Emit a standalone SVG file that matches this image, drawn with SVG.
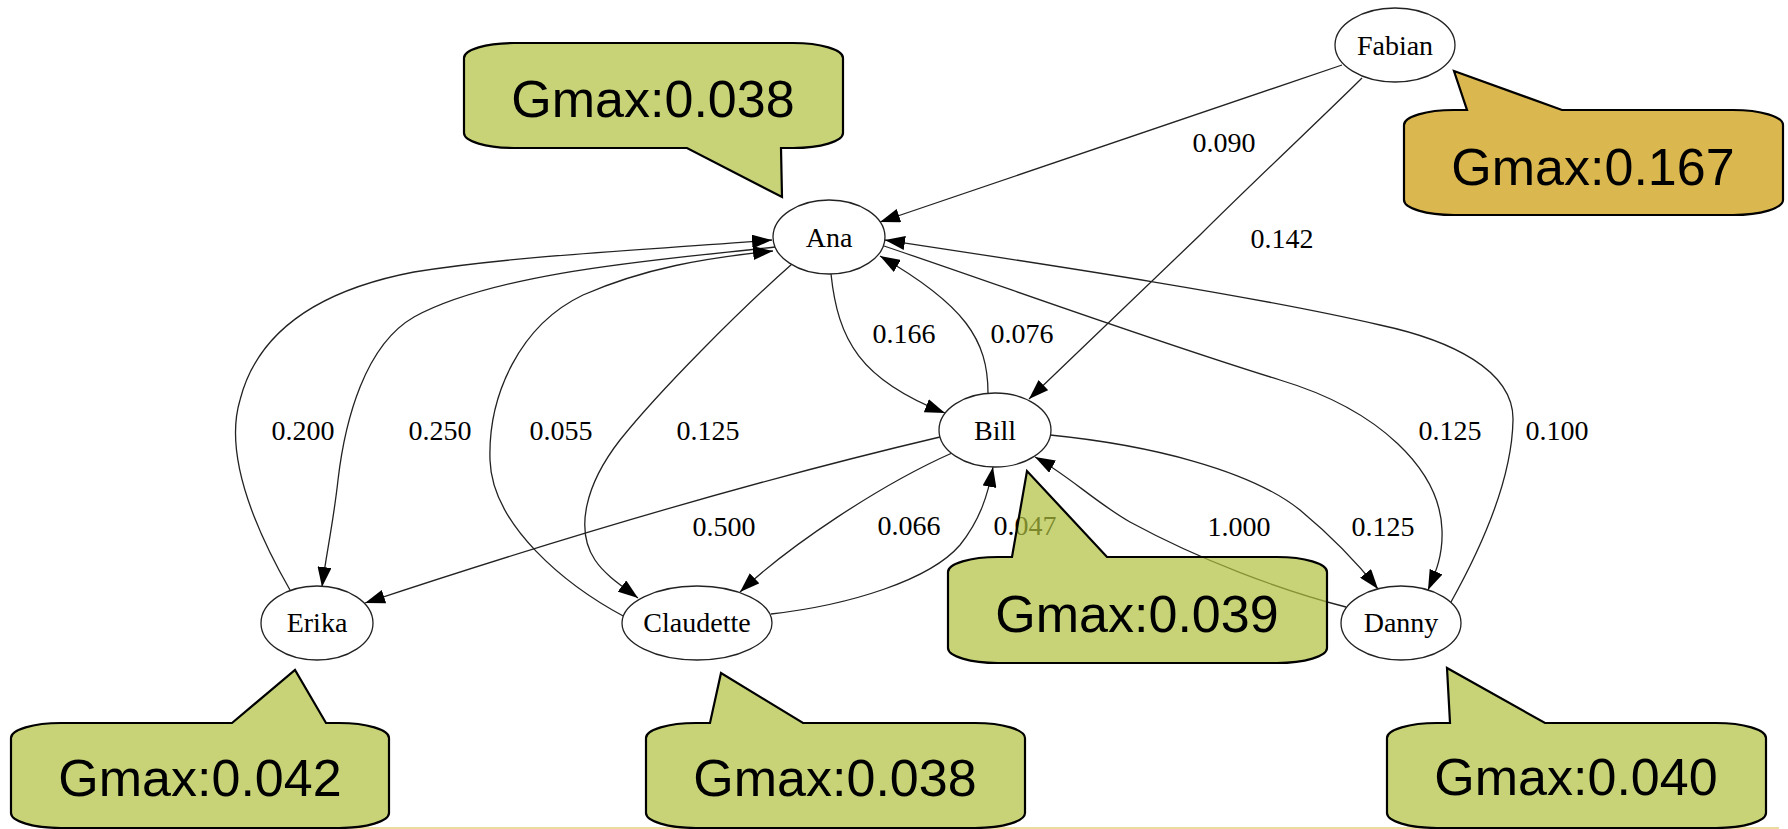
<svg xmlns="http://www.w3.org/2000/svg" width="1788" height="829" viewBox="0 0 1788 829">
  <style>
    .node ellipse { fill: #ffffff; stroke: #222222; stroke-width: 1.3; }
    .node text, .lbl { font-family: "Liberation Serif", "Times New Roman", serif; font-size: 28px; fill: #000000; text-anchor: middle; }
    .edge { fill: none; stroke: #222222; stroke-width: 1.3; marker-end: url(#arr); }
    .callout path { stroke: #000000; stroke-width: 2.2; stroke-linejoin: miter; }
    .callout .green { fill: #b0c03e; fill-opacity: 0.7; }
    .callout .gold { fill: #dbb750; }
    .callout text { font-family: "Liberation Sans", Arial, sans-serif; font-size: 52px; fill: #000000; text-anchor: middle; }
  </style>
  <defs>
    <marker id="arr" viewBox="0 0 20 14" refX="20" refY="7" markerWidth="20" markerHeight="14" markerUnits="userSpaceOnUse" orient="auto">
      <path d="M0,0 L20,7 L0,14 Z" fill="#000000"/>
    </marker>
  </defs>

  <rect width="1788" height="829" fill="#ffffff"/>

  <!-- connectors with their weights -->
  <g id="connectors">
    <path class="edge" d="M1342,65 L880,222"/>
    <text class="lbl" x="1224" y="152">0.090</text>

    <path class="edge" d="M1362,78 C1330,110 1250,185 1200,235 L1029,399"/>
    <text class="lbl" x="1282" y="248">0.142</text>

    <path class="edge" d="M831,274 C838,340 860,380 945,413"/>
    <text class="lbl" x="904" y="343">0.166</text>

    <path class="edge" d="M988,393 C988,340 965,305 880,256"/>
    <text class="lbl" x="1022" y="343">0.076</text>

    <path class="edge" d="M290,590 C250,520 225,450 240,400 C258,330 320,290 414,272 C520,255 650,250 772,240"/>
    <text class="lbl" x="303" y="440">0.200</text>

    <path class="edge" d="M775,247 C680,258 500,270 414,317 C365,345 345,420 338,480 C333,525 326,555 322,587"/>
    <text class="lbl" x="440" y="440">0.250</text>

    <path class="edge" d="M625,617 C565,585 492,525 490,460 C488,395 520,325 583,295 C645,268 705,258 773,251"/>
    <text class="lbl" x="561" y="440">0.055</text>

    <path class="edge" d="M792,264 C740,310 660,390 620,440 C585,485 575,530 595,560 C605,575 622,586 638,598"/>
    <text class="lbl" x="708" y="440">0.125</text>

    <path class="edge" d="M940,437 C800,470 600,525 365,603"/>
    <text class="lbl" x="724" y="536">0.500</text>

    <path class="edge" d="M952,453 C880,485 790,545 740,592"/>
    <text class="lbl" x="909" y="535">0.066</text>

    <path class="edge" d="M771,614 C850,605 930,580 960,545 C980,520 988,495 993,467"/>
    <text class="lbl" x="1025" y="535">0.047</text>

    <path class="edge" d="M1346,607 C1280,590 1200,560 1130,522 C1095,502 1068,475 1035,457"/>
    <text class="lbl" x="1239" y="536">1.000</text>

    <path class="edge" d="M1050,435 C1150,445 1250,470 1300,510 C1330,535 1355,560 1378,589"/>
    <text class="lbl" x="1383" y="536">0.125</text>

    <path class="edge" d="M884,246 C1000,285 1150,340 1280,380 C1380,410 1440,470 1442,530 C1443,555 1436,572 1428,590"/>
    <text class="lbl" x="1450" y="440">0.125</text>

    <path class="edge" d="M1451,602 C1480,550 1512,480 1513,420 C1514,370 1450,340 1380,325 C1250,295 1050,265 885,240"/>
    <text class="lbl" x="1557" y="440">0.100</text>
  </g>

  <!-- nodes -->
  <g id="node-fabian" class="node">
    <ellipse cx="1395" cy="45" rx="60" ry="37"/>
    <text x="1395" y="55">Fabian</text>
  </g>
  <g id="node-ana" class="node">
    <ellipse cx="829" cy="237" rx="56" ry="37"/>
    <text x="829" y="247">Ana</text>
  </g>
  <g id="node-bill" class="node">
    <ellipse cx="995" cy="430" rx="56" ry="37"/>
    <text x="995" y="440">Bill</text>
  </g>
  <g id="node-erika" class="node">
    <ellipse cx="317" cy="623" rx="56" ry="37"/>
    <text x="317" y="632">Erika</text>
  </g>
  <g id="node-claudette" class="node">
    <ellipse cx="697" cy="623" rx="75" ry="37"/>
    <text x="697" y="632">Claudette</text>
  </g>
  <g id="node-danny" class="node">
    <ellipse cx="1401" cy="623" rx="60" ry="37"/>
    <text x="1401" y="632">Danny</text>
  </g>

  <!-- thin rule along the bottom edge -->
  <line x1="300" y1="828" x2="1779" y2="828" stroke="#ecdb9e" stroke-width="2"/>

  <!-- Gmax callouts -->
  <g id="callout-ana" class="callout">
    <path class="green" d="M464,58 A50,15 0 0 1 514,43 L793,43 A50,15 0 0 1 843,58 L843,133 A50,15 0 0 1 793,148 L781,148 L782,197 L687,148 L514,148 A50,15 0 0 1 464,133 Z"/>
    <text x="653" y="117">Gmax:0.038</text>
  </g>
  <g id="callout-fabian" class="callout">
    <path class="gold" d="M1404,125 A50,15 0 0 1 1454,110 L1467,110 L1454,71 L1562,110 L1733,110 A50,15 0 0 1 1783,125 L1783,200 A50,15 0 0 1 1733,215 L1454,215 A50,15 0 0 1 1404,200 Z"/>
    <text x="1593" y="185">Gmax:0.167</text>
  </g>
  <g id="callout-bill" class="callout">
    <path class="green" d="M948,572 A50,15 0 0 1 998,557 L1012,557 L1027,471 L1107,557 L1277,557 A50,15 0 0 1 1327,572 L1327,648 A50,15 0 0 1 1277,663 L998,663 A50,15 0 0 1 948,648 Z"/>
    <text x="1137" y="632">Gmax:0.039</text>
  </g>
  <g id="callout-erika" class="callout">
    <path class="green" d="M11,738 A50,15 0 0 1 61,723 L232,723 L295,670 L326,723 L339,723 A50,15 0 0 1 389,738 L389,813 A50,15 0 0 1 339,828 L61,828 A50,15 0 0 1 11,813 Z"/>
    <text x="200" y="796">Gmax:0.042</text>
  </g>
  <g id="callout-claudette" class="callout">
    <path class="green" d="M646,738 A50,15 0 0 1 696,723 L710,723 L721,673 L803,723 L975,723 A50,15 0 0 1 1025,738 L1025,813 A50,15 0 0 1 975,828 L696,828 A50,15 0 0 1 646,813 Z"/>
    <text x="835" y="796">Gmax:0.038</text>
  </g>
  <g id="callout-danny" class="callout">
    <path class="green" d="M1387,738 A50,15 0 0 1 1437,723 L1450,723 L1447,668 L1545,723 L1716,723 A50,15 0 0 1 1766,738 L1766,813 A50,15 0 0 1 1716,828 L1437,828 A50,15 0 0 1 1387,813 Z"/>
    <text x="1576" y="795">Gmax:0.040</text>
  </g>
</svg>
